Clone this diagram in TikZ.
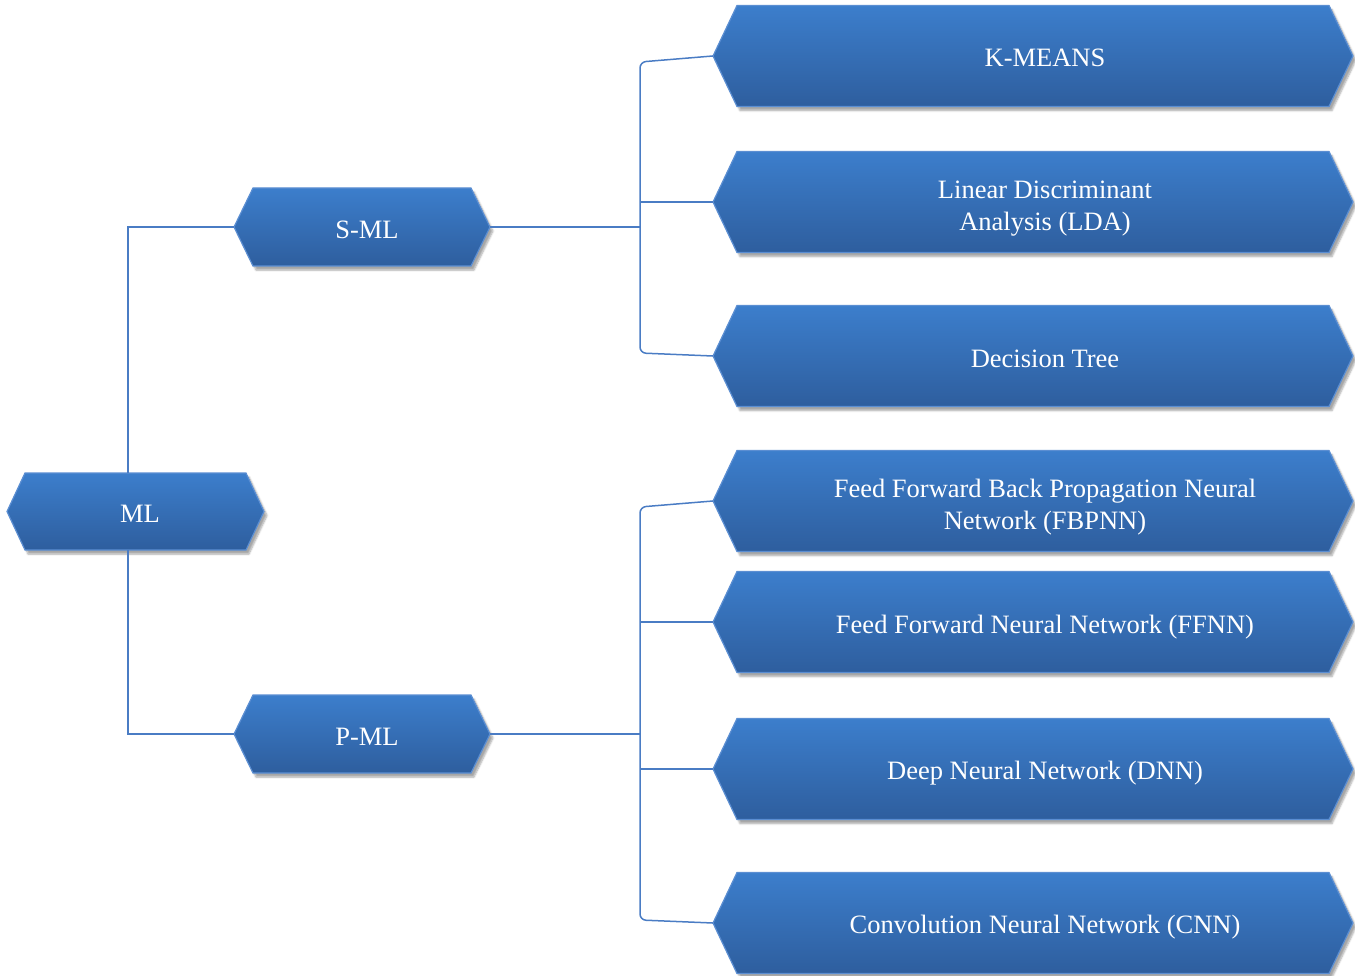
\documentclass[tikz,border=0pt]{standalone}
\usepackage{fontspec}
\setmainfont{Liberation Serif}
\usetikzlibrary{shadows.blur,calc}
\definecolor{boxtop}{HTML}{3C7ECC}
\definecolor{boxbot}{HTML}{2E5E9E}
\definecolor{boxedge}{HTML}{5B8ED2}
\definecolor{linecol}{HTML}{4A7CC4}
\tikzset{
 hexfill/.style={top color=boxtop, bottom color=boxbot, draw=boxedge, line width=1.2pt,
   blur shadow={shadow xshift=3pt, shadow yshift=-4pt, shadow blur steps=6, shadow opacity=35}},
 hextext/.style={text=white, font=\fontsize{26.5}{32}\selectfont, inner sep=0pt},
 conn/.style={draw=linecol, line width=1.5pt},
}
% name, cx, cy, width, height, inset, text dx, text dy (down), text
\newcommand\hexnode[9]{%
 \path[hexfill] ({#2-#4/2},{#3}) -- ({#2-#4/2+#6},{#3-#5/2}) -- ({#2+#4/2-#6},{#3-#5/2}) -- ({#2+#4/2},{#3}) -- ({#2+#4/2-#6},{#3+#5/2}) -- ({#2-#4/2+#6},{#3+#5/2}) -- cycle;
 \node[hextext, minimum width=#4pt, minimum height=#5pt] (#1) at (#2,#3)
   {\raisebox{0pt}[\dimexpr\height+#8pt+#8pt\relax]{\hspace*{#7pt}\begin{tabular}{@{}c@{}}#9\end{tabular}}};
}
\begin{document}
\begin{tikzpicture}[x=1pt,y=-1pt]
\useasboundingbox (0,0) rectangle (1355,976);
\hexnode{ML}{135.5}{511.5}{257}{77}{18}{9}{5}{ML}
\hexnode{SML}{362}{227}{256}{78}{19}{10}{5}{S-ML}
\hexnode{PML}{362}{734}{256}{78}{19}{10}{5}{P-ML}
\hexnode{KM}{1033}{56}{640}{101}{24}{24}{4}{K-MEANS}
\hexnode{LDA}{1033}{202}{640}{101}{24}{24}{6}{Linear Discriminant\\Analysis (LDA)}
\hexnode{DT}{1033}{356}{640}{101}{24}{24}{5}{Decision Tree}
\hexnode{FB}{1033}{501}{640}{101}{24}{24}{6}{Feed Forward Back Propagation Neural\\Network (FBPNN)}
\hexnode{FF}{1033}{622}{640}{101}{24}{24}{5}{Feed Forward Neural Network (FFNN)}
\hexnode{DNN}{1033}{769}{640}{101}{24}{24}{4}{Deep Neural Network (DNN)}
\hexnode{CNN}{1033}{923}{640}{101}{24}{24}{4}{Convolution Neural Network (CNN)}
\coordinate (sj) at (640,227);
\coordinate (pj) at (640,734);
\draw[conn] ([xshift=-7.5pt]ML.north) |- (SML.west);
\draw[conn] ([xshift=-7.5pt]ML.south) |- (PML.west);
\draw[conn] (SML.east) -- (sj);
\draw[conn] (PML.east) -- (pj);
\draw[conn, rounded corners=6pt] (KM.west) -- ([yshift=-6pt]sj |- KM.west) -- ([yshift=3pt]sj |- DT.west) -- (DT.west);
\draw[conn] (LDA.west) -- (sj |- LDA.west);
\draw[conn, rounded corners=6pt] (FB.west) -- ([yshift=-6pt]pj |- FB.west) -- ([yshift=3pt]pj |- CNN.west) -- (CNN.west);
\draw[conn] (FF.west) -- (pj |- FF.west);
\draw[conn] (DNN.west) -- (pj |- DNN.west);
\end{tikzpicture}
\end{document}
